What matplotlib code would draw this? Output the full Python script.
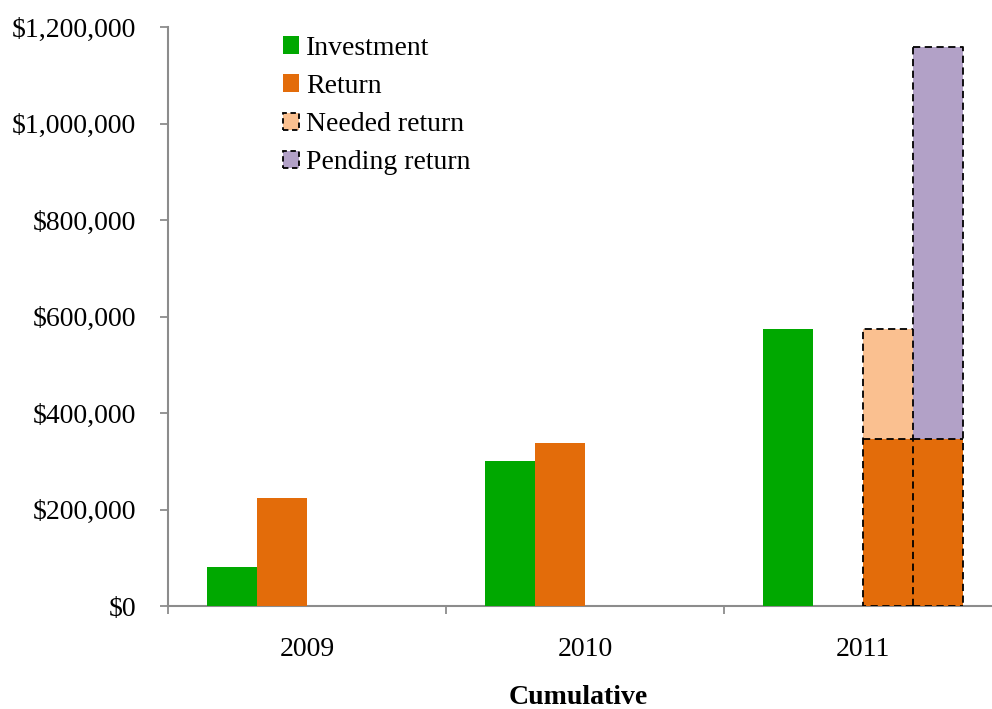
import matplotlib
matplotlib.use("Agg")
import matplotlib.pyplot as plt
from matplotlib.patches import Patch
from matplotlib.ticker import FuncFormatter
import numpy as np

years = ['2009', '2010', '2011']
investment = [80000, 300000, 574000]
returns = [224000, 338000, 0]          # return bar beside investment
return_base = [0, 0, 346000]           # return already received, under needed/pending
needed = [0, 0, 228000]                # needed return stacked on top
pending = [0, 0, 812000]               # pending return stacked on top

c_inv = '#00A800'
c_ret = '#E36C0A'
c_need = '#FAC090'
c_pend = '#B2A1C7'
axis_col = '#8C8C8C'
dash = (0, (4, 2.5))

plt.rcParams['font.family'] = ['Liberation Serif', 'DejaVu Serif']
plt.rcParams['font.size'] = 20

W, H = 992, 709
fig = plt.figure(figsize=(W / 100, H / 100), dpi=100)
ax_l, ax_r, ax_b, ax_t = 168 / W, 1002 / W, 1 - 606 / H, 1 - 27 / H
ax = fig.add_axes([ax_l, ax_b, ax_r - ax_l, ax_t - ax_b])

x = np.arange(len(years))
w = 0.18
offs = [(i - 1.5) * w for i in range(4)]

ax.bar(x + offs[0], investment, w, color=c_inv, zorder=2)
ax.bar(x + offs[1], returns, w, color=c_ret, zorder=2)

lkw = dict(color='black', linestyle=dash, linewidth=1.3, zorder=4, solid_capstyle='butt')

def seg(xs, ys):
    ax.plot(xs, ys, **lkw)

for idx in range(len(years)):
    base = return_base[idx]
    if needed[idx] > 0:
        xc = x[idx] + offs[2]
        l, r, top = xc - w / 2, xc + w / 2, base + needed[idx]
        ax.bar(xc, base, w, color=c_ret, zorder=2)
        ax.bar(xc, needed[idx], w, bottom=base, color=c_need, zorder=2)
        seg([r, l, l, r], [0, 0, top, top])   # bottom, left, top
        seg([l, r], [base, base])
    if pending[idx] > 0:
        xc = x[idx] + offs[3]
        l, r, top = xc - w / 2, xc + w / 2, base + pending[idx]
        ax.bar(xc, base, w, color=c_ret, zorder=2)
        ax.bar(xc, pending[idx], w, bottom=base, color=c_pend, zorder=2)
        seg([l, l], [0, top])
        seg([l, r, r], [top, top, 0])
        seg([l, r], [0, 0])
        seg([l, r], [base, base])

ax.set_xlim(-0.5, 2.5)
ax.set_ylim(0, 1200000)
ax.set_yticks(np.arange(0, 1200001, 200000))
ax.yaxis.set_major_formatter(FuncFormatter(lambda v, p: '${:,.0f}'.format(v)))

ax.set_xticks(x)
ax.set_xticklabels(years)
ax.set_xticks([-0.5, 0.5, 1.5, 2.5], minor=True)
ax.tick_params(axis='x', which='major', length=0, pad=22)
ax.tick_params(axis='x', which='minor', length=6, width=1.3, color=axis_col, direction='out')
ax.tick_params(axis='y', which='major', length=6, width=1.3, color=axis_col, pad=17)

for s in ['top', 'right']:
    ax.spines[s].set_visible(False)
for s in ['left', 'bottom']:
    ax.spines[s].set_color(axis_col)
    ax.spines[s].set_linewidth(1.5)
    ax.spines[s].set_zorder(1)

fig.text(578 / W, 1 - 698 / H, 'Cumulative', fontweight='bold', ha='center', va='center')

handles = [
    Patch(facecolor=c_inv, edgecolor='none', label='Investment'),
    Patch(facecolor=c_ret, edgecolor='none', label='Return'),
    Patch(facecolor=c_need, edgecolor='black', linestyle=(0, (3, 2)), linewidth=1.3, label='Needed return'),
    Patch(facecolor=c_pend, edgecolor='black', linestyle=(0, (3, 2)), linewidth=1.3, label='Pending return'),
]
ax.legend(handles=handles, loc='upper left', bbox_to_anchor=(0.114, 1.018), frameon=False,
          handlelength=0.6, handleheight=0.6, handletextpad=0.25, labelspacing=0.47,
          borderaxespad=0.3)

fig.savefig('out.png', dpi=100)
